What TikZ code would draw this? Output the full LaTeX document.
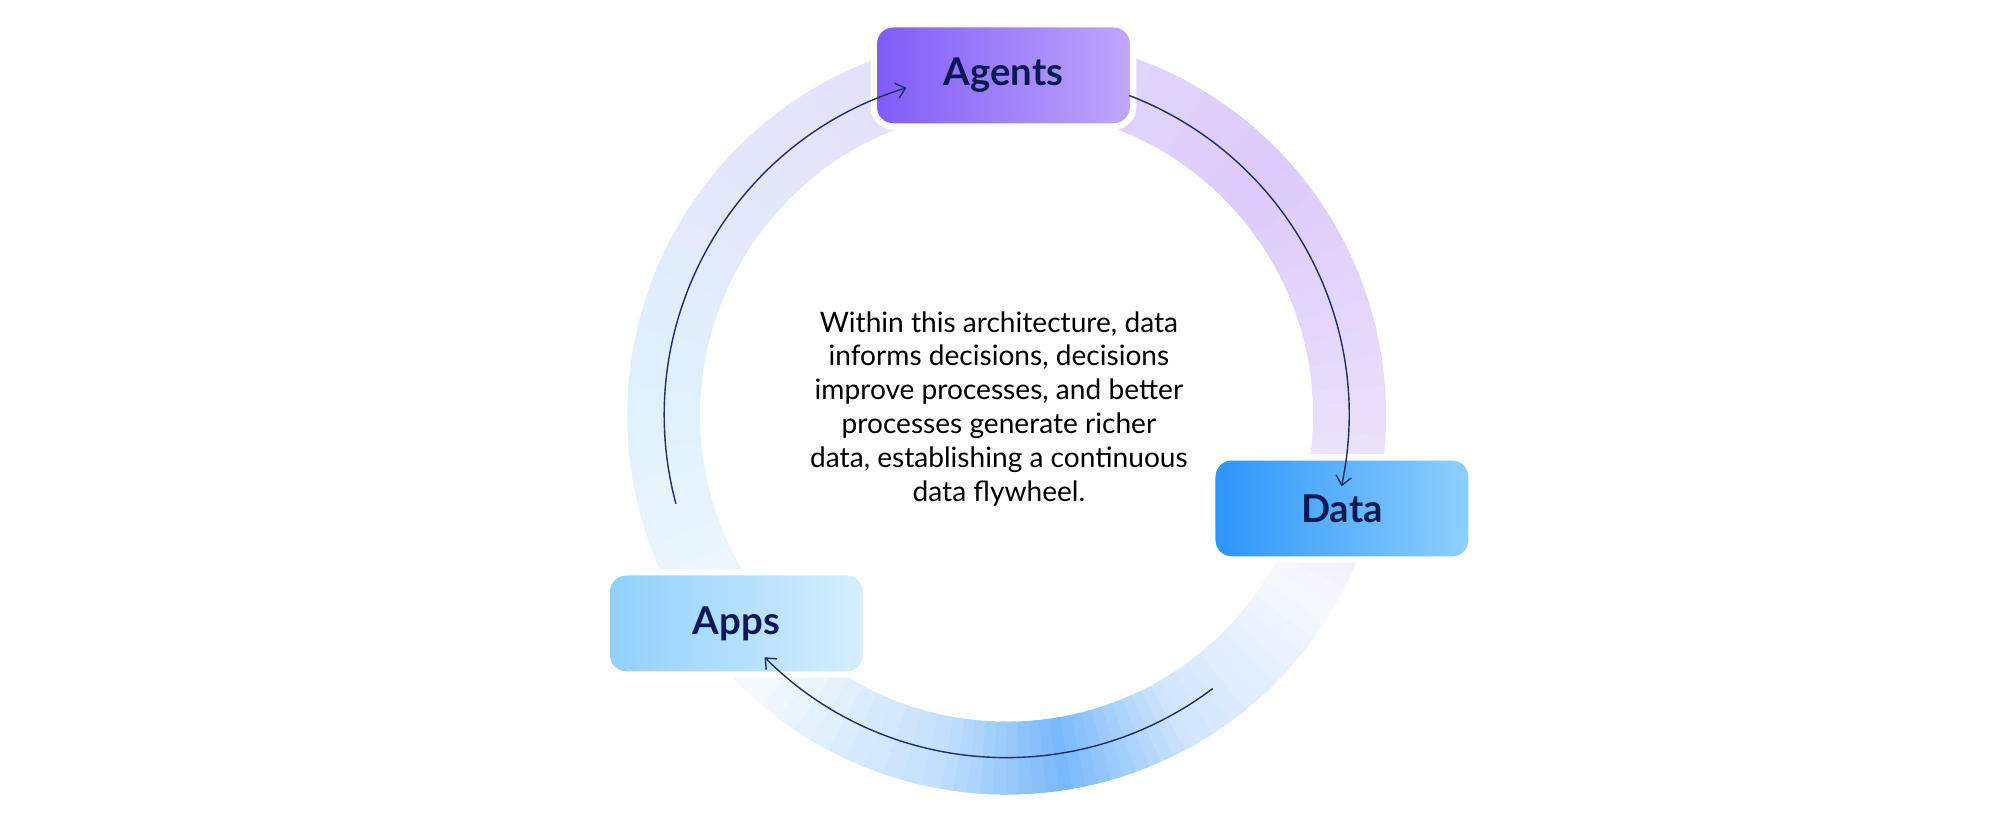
\documentclass[tikz,border=0pt]{standalone}
\usepackage{fontspec}
\setmainfont{Lato}
\usetikzlibrary{arrows.meta}
\definecolor{navy}{HTML}{0B1A55}
\definecolor{arrowc}{HTML}{1F2D6E}
\definecolor{cA}{HTML}{E4DCFB}
\definecolor{cB}{HTML}{DCCBFB}
\definecolor{cC}{HTML}{E9DFFB}
\definecolor{cD}{HTML}{F6F8FE}
\definecolor{cE}{HTML}{CFE5FC}
\definecolor{cF}{HTML}{78B8FB}
\definecolor{cG}{HTML}{C2E0FD}
\definecolor{cH}{HTML}{F3F9FF}
\definecolor{cI}{HTML}{DFF1FC}
\definecolor{cJ}{HTML}{E4E6FB}
\definecolor{agL}{HTML}{7D5CF8}
\definecolor{agR}{HTML}{C0A7FB}
\definecolor{daL}{HTML}{2B95F8}
\definecolor{daR}{HTML}{8FD0FD}
\definecolor{apL}{HTML}{8FD0FC}
\definecolor{apR}{HTML}{D6EFFE}
\tikzset{
 lbl/.style={rounded corners=15pt, minimum width=203pt, minimum height=80pt, draw=white, line width=5pt, font=\fontsize{30}{34}\selectfont\bfseries, text=navy},
 flow/.style={arrowc, line width=1.1pt, -{Straight Barb[length=7pt,width=12pt]}}
}
\begin{document}
\begin{tikzpicture}[x=1pt,y=1pt]
\useasboundingbox (0,0) rectangle (1568,645);
\coordinate (c) at (788,320);
% ring
\foreach \a/\b/\ca/\cb in {90/45/cA/cB,45/0/cB/cC,0/-30/cC/cD,-30/-60/cD/cE,-60/-80/cE/cF,-80/-100/cF/cG,-100/-130/cG/cH,-130/-180/cH/cI,-180/-225/cI/cJ,-225/-270/cJ/cA}{
  \foreach \t in {0,...,9}{
    \pgfmathsetmacro\p{100-\t*10}
    \pgfmathsetmacro\s{\a+(\b-\a)*\t/10}
    \pgfmathsetmacro\e{\a+(\b-\a)*(\t+1)/10+1.2*sign(\b-\a)}
    \draw[\ca!\p!\cb, line width=57pt] ([shift={(\s:268.5)}]c) arc[start angle=\s, end angle=\e, radius=268.5];
  }
}
% boxes
\node[lbl, left color=agL, right color=agR] (agents) at (785.5,586) {Agents};
\node[lbl, left color=daL, right color=daR] (data) at (1050.5,247) {Data};
\node[lbl, left color=apL, right color=apR] (apps) at (576.5,157) {Apps};
% text
\node[font=\fontsize{22}{26.5}\selectfont, align=center, text=black] (txt) at (782,325)
 {Within this architecture, data\\informs decisions, decisions\\improve processes, and better\\processes generate richer\\data, establishing a continuous\\data flywheel.};
% arrows
\coordinate (a1) at ([shift={(195:268)}]c);
\coordinate (b1) at ([shift={(69:268)}]c);
\coordinate (d1) at ([shift={(-53:268)}]c);
\draw[flow] (a1) arc[start angle=195, end angle=107, radius=268];
\draw[flow] (b1) arc[start angle=69, end angle=-12, radius=268];
\draw[flow] (d1) arc[start angle=-53, end angle=-135, radius=268];
\end{tikzpicture}
\end{document}
